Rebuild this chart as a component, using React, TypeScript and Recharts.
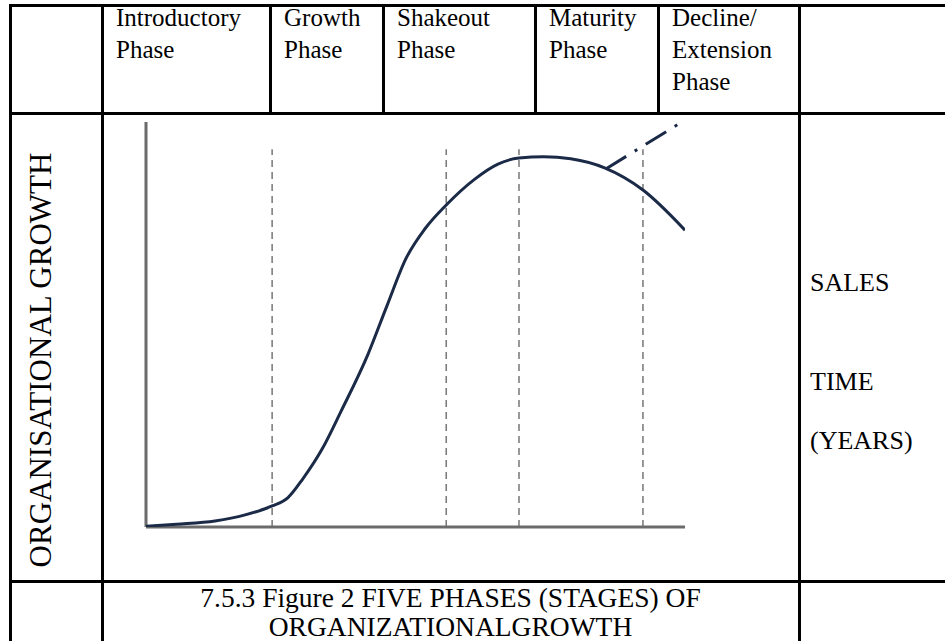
import React from 'react';
import { LineChart, Line, XAxis, YAxis, ReferenceLine } from 'recharts';

// time (0-100) vs organisational growth (0-100)
const years = [0, 5.7, 12.8, 18.4, 23.4, 26.3, 29.1, 32.7, 36.2, 41.2, 44.7, 48.2, 51.8, 55.7, 61.0, 65.3, 69.2, 73.8, 78.8, 85.2, 92.2, 100];
const growth = [0.2, 0.7, 1.5, 3.0, 5.2, 7.2, 11.9, 19.3, 28.6, 42.7, 54.6, 66.2, 73.7, 79.5, 85.9, 89.6, 91.1, 91.4, 90.9, 88.6, 83.2, 73.3];
// extension branch (dash-dot)
const extYears = [85.3, 98.8];
const extGrowth = [88.4, 99.5];
// phase boundaries
const phaseEnds = [23.4, 55.7, 69.2, 92.2];
const phaseTop = 93.3;

const phaseLabels = [
  ['Introductory', 'Phase'],
  ['Growth', 'Phase'],
  ['Shakeout', 'Phase'],
  ['Maturity', 'Phase'],
  ['Decline/', 'Extension', 'Phase'],
];
const sideLabels = ['SALES', 'TIME', '(YEARS)'];
const yLabel = 'ORGANISATIONAL GROWTH';
const caption = ['7.5.3 Figure 2 FIVE PHASES (STAGES) OF', 'ORGANIZATIONALGROWTH'];

const curveData = years.map((t, i) => ({ t, g: growth[i] }));
const extData = extYears.map((t, i) => ({ t, g: extGrowth[i] }));

const FONT = '"Liberation Serif", "Times New Roman", serif';
const INK = '#1b2a47';
const AXIS = '#6b6b6b';

const colEdges = [102, 270, 383, 535, 658, 799];
const sideY = [268, 367, 426];

function HLine({ y, x1, x2 }: { y: number; x1: number; x2: number }) {
  return <div style={{ position: 'absolute', left: x1, top: y - 1.5, width: x2 - x1, height: 3, background: '#000' }} />;
}
function VLine({ x, y1, y2 }: { x: number; y1: number; y2: number }) {
  return <div style={{ position: 'absolute', left: x - 1.5, top: y1, width: 3, height: y2 - y1, background: '#000' }} />;
}

export default function App() {
  return (
    <div style={{ position: 'absolute', left: 0, top: 0, width: 945, height: 641, background: '#fff', overflow: 'hidden', fontFamily: FONT, color: '#000' }}>
      {/* table rules */}
      <HLine y={5} x1={9} x2={945} />
      <HLine y={113} x1={9} x2={945} />
      <HLine y={581} x1={9} x2={945} />
      <VLine x={10} y1={4} y2={641} />
      <VLine x={102} y1={4} y2={641} />
      <VLine x={799} y1={4} y2={641} />
      {colEdges.slice(1, 5).map((x) => (
        <VLine key={x} x={x} y1={4} y2={113} />
      ))}

      {/* header phases */}
      {phaseLabels.map((lines, i) => (
        <div key={i} style={{ position: 'absolute', left: colEdges[i] + 14, top: 2, fontSize: 25, lineHeight: '32px', whiteSpace: 'nowrap' }}>
          {lines.map((l, j) => (
            <div key={j}>{l}</div>
          ))}
        </div>
      ))}

      {/* vertical axis title */}
      <div style={{ position: 'absolute', left: 41 - 240, top: 360 - 18, width: 480, height: 36, lineHeight: '36px', fontSize: 31, textAlign: 'center', whiteSpace: 'nowrap', transform: 'rotate(-90deg)' }}>
        {yLabel}
      </div>

      {/* right column */}
      {sideLabels.map((s, i) => (
        <div key={s} style={{ position: 'absolute', left: 810, top: sideY[i], fontSize: 26, lineHeight: '30px', whiteSpace: 'nowrap' }}>
          {s}
        </div>
      ))}

      {/* caption */}
      <div style={{ position: 'absolute', left: 102, top: 583, width: 697, textAlign: 'center', fontSize: 27.5, lineHeight: '29px', whiteSpace: 'nowrap' }}>
        {caption.map((c, i) => (
          <div key={i}>{c}</div>
        ))}
      </div>

      {/* chart */}
      <div style={{ position: 'absolute', left: 100, top: 100 }}>
        <LineChart width={600} height={450} margin={{ top: 22, right: 15, bottom: 23, left: 46 }}>
          <XAxis type="number" dataKey="t" domain={[0, 100]} hide allowDataOverflow />
          <YAxis type="number" dataKey="g" domain={[0, 100]} hide allowDataOverflow />
          {phaseEnds.map((x) => (
            <ReferenceLine
              key={x}
              segment={[{ x, y: 0 }, { x, y: phaseTop }]}
              stroke="#777"
              strokeWidth={1.5}
              strokeDasharray="7 5"
            />
          ))}
          <ReferenceLine x={0} stroke={AXIS} strokeWidth={3} />
          <ReferenceLine y={0} stroke={AXIS} strokeWidth={3} />
          <Line data={curveData} dataKey="g" type="monotone" stroke={INK} strokeWidth={3} dot={false} isAnimationActive={false} />
          <Line data={extData} dataKey="g" type="linear" stroke={INK} strokeWidth={3} strokeDasharray="24 10 3 10" dot={false} isAnimationActive={false} />
        </LineChart>
      </div>
    </div>
  );
}
